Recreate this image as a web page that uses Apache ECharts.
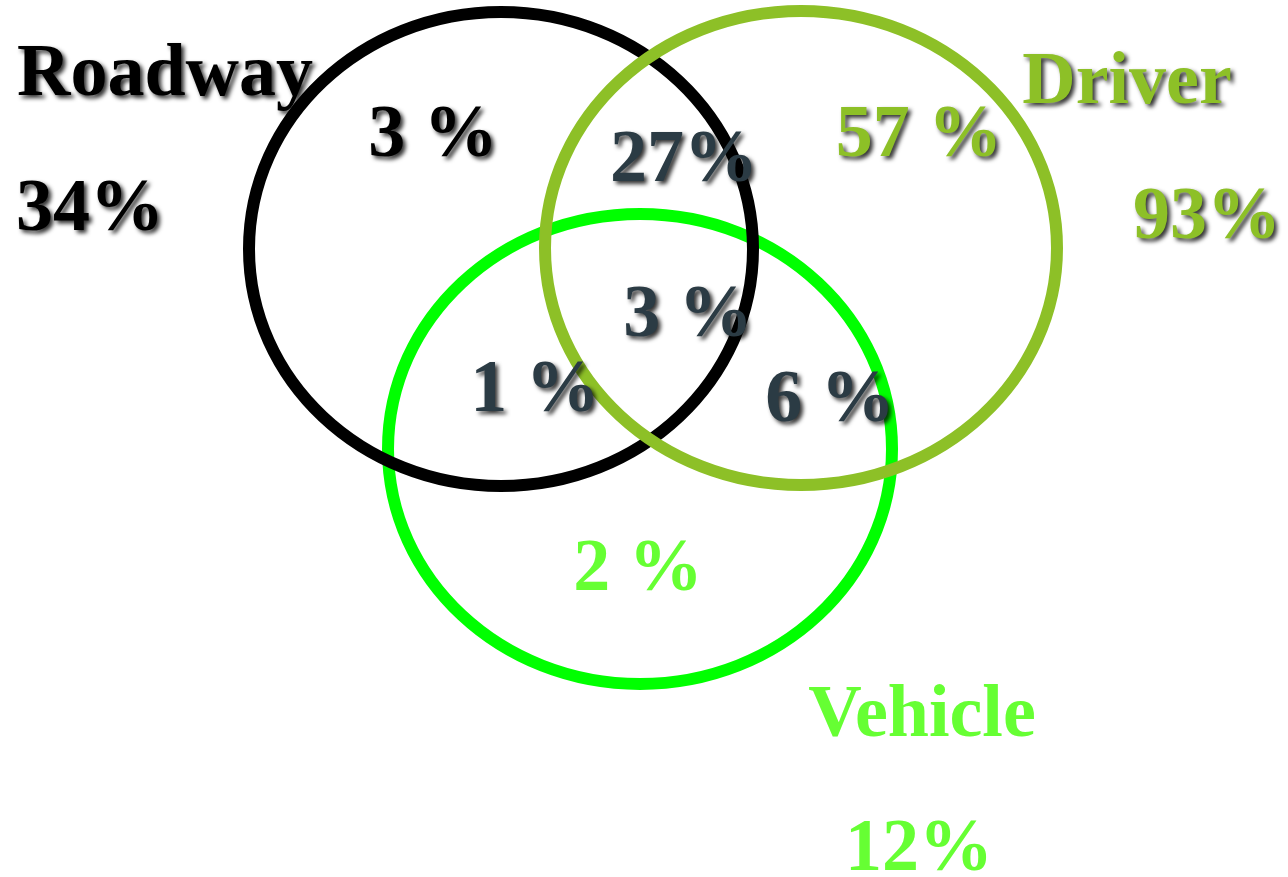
<!DOCTYPE html>
<html>
<head>
<meta charset="utf-8">
<script src="https://cdn.jsdelivr.net/npm/echarts@6/dist/echarts.min.js"></script>
<style>
html,body{margin:0;padding:0;background:#fff;}
#chart{width:1288px;height:877px;}
</style>
</head>
<body>
<div id="chart"></div>
<script>
// ---- data ----
const sets = ['Roadway', 'Driver', 'Vehicle'];
const setTotals = [34, 93, 12];
const regionNames = ['Roadway only', 'Roadway & Driver', 'Driver only', 'All three', 'Roadway & Vehicle', 'Driver & Vehicle', 'Vehicle only'];
const regionValues = [3, 27, 57, 3, 1, 6, 2];
const regionSpaced = [true, false, true, true, true, true, true];

// ---- layout (positions in chart units) ----
const circleLayout = [
  { cx: 501, cy: 249, rx: 252, ry: 237, color: '#000000', order: 1 },
  { cx: 801, cy: 248, rx: 256, ry: 237, color: '#8DC027', order: 2 },
  { cx: 640, cy: 449, rx: 252, ry: 235, color: '#00FF00', order: 0 }
];
const setLabelLayout = [
  { name: [165, 97], total: [90, 232], color: '#000000', shadow: true },
  { name: [1127, 105], total: [1207, 240], color: '#8DC027', shadow: true },
  { name: [922, 738], total: [919, 872], color: '#66FF33', shadow: false }
];
const regionLayout = [
  { pos: [433, 158], color: '#000000', shadow: true },
  { pos: [684, 183], color: '#2B3B44', shadow: true },
  { pos: [919, 158], color: '#8DC027', shadow: true },
  { pos: [688, 338], color: '#2B3B44', shadow: true },
  { pos: [535, 413], color: '#2B3B44', shadow: true },
  { pos: [830, 423], color: '#2B3B44', shadow: true },
  { pos: [638, 592], color: '#66FF33', shadow: false }
];
const FONT_SIZE = 74;
const BASELINE_SHIFT = 21;

const circleData = sets.map((s, i) => {
  const l = circleLayout[i];
  return { name: s, value: [l.cx, l.cy, l.rx, l.ry, i] };
});

const labelData = [];
sets.forEach((s, i) => {
  const l = setLabelLayout[i];
  labelData.push({ value: [l.name[0], l.name[1]], text: s, color: l.color, shadow: l.shadow });
  labelData.push({ value: [l.total[0], l.total[1]], text: setTotals[i] + '%', color: l.color, shadow: l.shadow });
});
regionValues.forEach((v, i) => {
  const l = regionLayout[i];
  labelData.push({ value: [l.pos[0], l.pos[1]], text: v + (regionSpaced[i] ? ' %' : '%'), color: l.color, shadow: l.shadow, name: regionNames[i] });
});

const chart = echarts.init(document.getElementById('chart'), null, { renderer: 'canvas' });
chart.setOption({
  backgroundColor: '#ffffff',
  animation: false,
  grid: { left: 0, right: 0, top: 0, bottom: 0 },
  xAxis: { type: 'value', min: 0, max: 1288, show: false },
  yAxis: { type: 'value', min: 0, max: 877, inverse: true, show: false },
  series: [
    {
      type: 'custom',
      data: circleData,
      z: 1,
      renderItem: function (params, api) {
        const c = api.coord([api.value(0), api.value(1)]);
        const sz = api.size([api.value(2), api.value(3)]);
        const l = circleLayout[api.value(4)];
        return {
          type: 'ellipse',
          z2: l.order,
          shape: { cx: c[0], cy: c[1], rx: sz[0], ry: sz[1] },
          style: { fill: null, stroke: l.color, lineWidth: 12 }
        };
      }
    },
    {
      type: 'custom',
      data: labelData,
      z: 5,
      renderItem: function (params, api) {
        const d = labelData[params.dataIndex];
        const c = api.coord([api.value(0), api.value(1)]);
        const style = {
          text: d.text,
          x: c[0],
          y: c[1] - BASELINE_SHIFT,
          fill: d.color,
          fontSize: FONT_SIZE,
          fontWeight: 'bold',
          fontFamily: '"Liberation Serif", "Times New Roman", serif',
          align: 'center',
          verticalAlign: 'middle'
        };
        if (d.shadow) {
          style.textShadowColor = 'rgba(0,0,0,0.8)';
          style.textShadowBlur = 4;
          style.textShadowOffsetX = 3;
          style.textShadowOffsetY = 3;
        }
        return { type: 'text', style: style };
      }
    }
  ]
});
</script>
</body>
</html>
